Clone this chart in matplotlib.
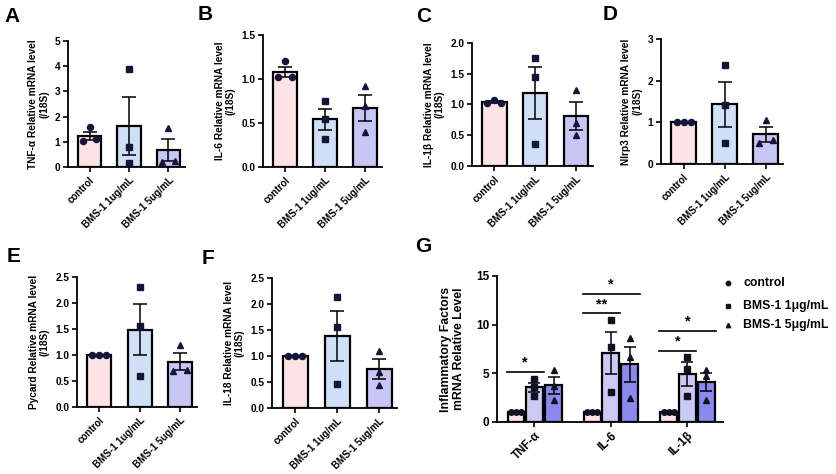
import matplotlib
matplotlib.use("Agg")
import matplotlib.pyplot as plt
import numpy as np

plt.rcParams['font.family'] = ['Liberation Sans', 'DejaVu Sans']
plt.rcParams['font.weight'] = 'bold'
plt.rcParams['axes.labelweight'] = 'bold'

# ---------------- data ----------------
groups = ["control", "BMS-1 1ug/mL", "BMS-1 5ug/mL"]

tnf_ctrl = [1.05, 1.57, 1.10]
tnf_b1 = [3.90, 0.80, 0.15]
tnf_b5 = [0.20, 1.55, 0.25]

il6_ctrl = [1.02, 1.20, 1.02]
il6_b1 = [0.75, 0.55, 0.32]
il6_b5 = [0.92, 0.69, 0.40]

il1b_ctrl = [1.02, 1.08, 1.03]
il1b_b1 = [1.75, 1.45, 0.35]
il1b_b5 = [1.24, 0.70, 0.50]

nlrp3_ctrl = [1.0, 1.0, 1.0]
nlrp3_b1 = [2.37, 1.42, 0.50]
nlrp3_b5 = [0.50, 1.05, 0.58]

pycard_ctrl = [1.0, 1.0, 1.0]
pycard_b1 = [2.30, 1.55, 0.60]
pycard_b5 = [0.70, 1.20, 0.72]

il18_ctrl = [1.0, 1.0, 1.0]
il18_b1 = [2.13, 1.55, 0.47]
il18_b5 = [1.10, 0.70, 0.45]

g_factors = ["TNF-α", "IL-6", "IL-1β"]
g_legend = ["control", "BMS-1 1μg/mL", "BMS-1 5μg/mL"]
g_ctrl = [[1.0, 1.0, 1.0], [1.0, 1.0, 1.0], [1.0, 1.0, 1.0]]
g_b1 = [[4.40, 3.55, 2.70], [10.50, 7.75, 3.07], [6.72, 5.46, 2.63]]
g_b5 = [[5.30, 3.70, 2.30], [8.60, 6.70, 2.50], [5.30, 4.68, 2.30]]

# ---------------- style ----------------
fig = plt.figure(figsize=(8.36, 4.74), dpi=100)
W, H = 836, 474

c_ctrl = "#fde3e3"
c_b1 = "#cfe0f6"
c_b5 = "#c8c6f5"
g_colors = ["#fde3e3", "#cacaf5", "#8a8aee"]
mk_col = "#15153a"
markers = ["o", "s", "^"]


def px_axes(l, r, t, b):
    return fig.add_axes([l / W, 1 - b / H, (r - l) / W, (b - t) / H])


def style_axes(ax, fs=7):
    for s in ["top", "right"]:
        ax.spines[s].set_visible(False)
    for s in ["left", "bottom"]:
        ax.spines[s].set_linewidth(1.3)
    ax.tick_params(axis="both", width=1.2, length=3.5, labelsize=fs, pad=2)
    for lab in ax.get_yticklabels() + ax.get_xticklabels():
        lab.set_fontweight("bold")


def sem(v):
    v = np.asarray(v)
    return v.std(ddof=1) / np.sqrt(len(v))


def small_panel(box, letter, letter_xy, vals, offsets, ylim, yticks, yfmt, ylabel):
    ax = px_axes(*box)
    x = np.arange(3)
    cols = [c_ctrl, c_b1, c_b5]
    for i in range(3):
        v = np.asarray(vals[i])
        m = v.mean()
        ax.bar(x[i], m, width=0.6, color=cols[i], edgecolor="black", linewidth=1.6, zorder=2)
        ax.errorbar(x[i], m, yerr=sem(v), color="black", capsize=5, elinewidth=1.1,
                    capthick=1.1, zorder=3)
        ax.plot(x[i] + np.asarray(offsets[i]), v, linestyle="none", marker=markers[i],
                color=mk_col, ms=4.4, zorder=4)
    ax.set_xlim(-0.55, 2.42)
    ax.set_ylim(*ylim)
    ax.set_yticks(yticks)
    ax.set_yticklabels([yfmt.format(t) for t in yticks])
    ax.set_xticks(x)
    ax.set_xticklabels(groups, rotation=45, ha="right", rotation_mode="anchor")
    ax.set_ylabel(ylabel, fontsize=7.3, fontweight="bold", linespacing=1.1, labelpad=4)
    style_axes(ax, fs=7.3)
    for lab in ax.get_xticklabels():
        lab.set_fontsize(7)
    fig.text(letter_xy[0] / W, 1 - letter_xy[1] / H, letter, fontsize=15, fontweight="bold",
             ha="left", va="center")
    return ax


sp = 0.17
small_panel((68, 185, 41, 167), "A", (4, 16),
            [tnf_ctrl, tnf_b1, tnf_b5],
            [[-sp, 0, sp], [0, 0, 0], [-sp, 0, sp]],
            (0, 5), [0, 1, 2, 3, 4, 5], "{:d}",
            "TNF-α Relative mRNA level\n(/18S)")
small_panel((263, 382, 35, 167), "B", (198, 14),
            [il6_ctrl, il6_b1, il6_b5],
            [[-sp, 0, sp], [0, 0, 0], [0, 0, 0]],
            (0, 1.5), [0.0, 0.5, 1.0, 1.5], "{:.1f}",
            "IL-6 Relative mRNA level\n(/18S)")
small_panel((472, 593, 43, 166), "C", (416, 17),
            [il1b_ctrl, il1b_b1, il1b_b5],
            [[-sp, 0, sp], [0, 0, 0], [0, 0, 0]],
            (0, 2.0), [0.0, 0.5, 1.0, 1.5, 2.0], "{:.1f}",
            "IL-1β Relative mRNA level\n(/18S)")
small_panel((661, 783, 39, 164), "D", (603, 14),
            [nlrp3_ctrl, nlrp3_b1, nlrp3_b5],
            [[-sp, 0, sp], [0, 0, 0], [-sp, 0, sp]],
            (0, 3), [0, 1, 2, 3], "{:d}",
            "Nlrp3 Relative mRNA level\n(/18S)")
small_panel((77, 197, 277, 407), "E", (7, 257),
            [pycard_ctrl, pycard_b1, pycard_b5],
            [[-sp, 0, sp], [0, 0, 0], [-sp, 0, sp]],
            (0, 2.5), [0.0, 0.5, 1.0, 1.5, 2.0, 2.5], "{:.1f}",
            "Pycard Relative mRNA level\n(/18S)")
small_panel((272, 397, 278, 408), "F", (202, 258),
            [il18_ctrl, il18_b1, il18_b5],
            [[-sp, 0, sp], [0, 0, 0], [0, 0, 0]],
            (0, 2.5), [0.0, 0.5, 1.0, 1.5, 2.0, 2.5], "{:.1f}",
            "IL-18 Relative mRNA level\n(/18S)")

# ---------------- panel G ----------------
axg = px_axes(497, 723, 276, 422)
xg = np.arange(3)
offs = [-0.24, 0.0, 0.25]
series = [g_ctrl, g_b1, g_b5]
for s in range(3):
    for gi in range(3):
        v = np.asarray(series[s][gi])
        m = v.mean()
        xx = xg[gi] + offs[s]
        axg.bar(xx, m, width=0.22, color=g_colors[s], edgecolor="black", linewidth=1.6, zorder=2)
        if s > 0:
            axg.errorbar(xx, m, yerr=sem(v), color="black", capsize=4.5, elinewidth=1.1,
                         capthick=1.1, zorder=3)
            axg.plot([xx] * 3, v, linestyle="none", marker=markers[s], color="#111122",
                     ms=4.0, zorder=4)
        else:
            axg.plot(xx + np.array([-0.065, 0, 0.065]), v, linestyle="none", marker="o",
                     color="#111122", ms=4.0, zorder=4)
axg.set_xlim(-0.49, 2.47)
axg.set_ylim(0, 15)
axg.set_yticks([0, 5, 10, 15])
axg.set_xticks(xg)
axg.set_xticklabels(g_factors, rotation=45, ha="right", rotation_mode="anchor")
axg.set_ylabel("Inflammatory Factors\nmRNA Relative Level", fontsize=8.8, fontweight="bold",
               linespacing=1.1, labelpad=8)
style_axes(axg, fs=8.5)

# significance annotations
sig = [
    (0, -0.36, 0.12, 5.1, "*"),
    (1, -0.37, 0.12, 11.15, "**"),
    (1, -0.37, 0.38, 13.2, "*"),
    (2, -0.37, 0.12, 7.3, "*"),
    (2, -0.37, 0.38, 9.35, "*"),
]
for gi, a, b, y, t in sig:
    axg.plot([gi + a, gi + b], [y, y], color="black", lw=1.2, clip_on=False)
    axg.text(gi + (a + b) / 2, y + 0.25, t, ha="center", va="bottom", fontsize=10.5,
             fontweight="bold")

# legend
leg_y = [283, 306, 325]
for i in range(3):
    fig.lines.append(plt.Line2D([728 / W], [1 - leg_y[i] / H], marker=markers[i], color="#111122",
                                ms=3.2, linestyle="none", transform=fig.transFigure))
    fig.text(743 / W, 1 - leg_y[i] / H, g_legend[i], fontsize=8.8, fontweight="bold",
             ha="left", va="center")

fig.text(415 / W, 1 - 247 / H, "G", fontsize=15, fontweight="bold", ha="left", va="center")

fig.savefig("out.png", dpi=100)
